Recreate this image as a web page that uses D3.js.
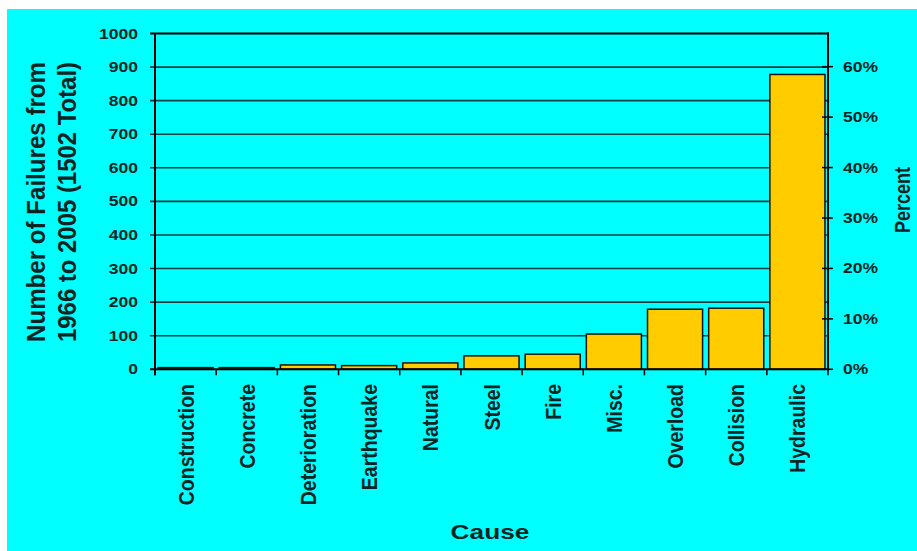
<!DOCTYPE html>
<html>
<head>
<meta charset="utf-8">
<script src="https://cdn.jsdelivr.net/npm/d3@7"></script>
<style>
  html, body { margin: 0; padding: 0; background: #ffffff; }
  svg { display: block; }
  text { font-family: "Liberation Sans", Arial, sans-serif; font-weight: bold; fill: #0d2424; }
</style>
</head>
<body>
<svg id="chart" width="917" height="551"></svg>
<script>
const categories = ["Construction", "Concrete", "Deterioration", "Earthquake", "Natural",
                    "Steel", "Fire", "Misc.", "Overload", "Collision", "Hydraulic"];
const failures = [5, 5, 13, 11, 19, 40, 45, 105, 179, 182, 878];
const totalFailures = 1502;
const countTicks = [0, 100, 200, 300, 400, 500, 600, 700, 800, 900, 1000];
const percentTicks = [0, 0.1, 0.2, 0.3, 0.4, 0.5, 0.6];
const yTitleLines = ["Number of Failures from", "1966 to 2005 (1502 Total)"];
const xTitle = "Cause";
const y2Title = "Percent";

const svg = d3.select("#chart");
const W = 917, H = 551;
const L = 155, R = 828, T = 33.5, B = 369.3;
const SX = 1.25; // horizontal glyph stretch seen in the reference
const SXR = 1.15; // stretch for rotated category labels

svg.append("rect").attr("x", 7).attr("y", 9).attr("width", W - 7).attr("height", H - 9)
  .attr("fill", "#00ffff");

const x = d3.scaleBand().domain(categories).range([L, R]).paddingInner(0.1).paddingOuter(0.05);
const y = d3.scaleLinear().domain([0, 1000]).range([B, T]);
const y2 = d3.scaleLinear().domain([0, 1000 / totalFailures]).range([B, T]);

// gridlines (extend left as outside ticks)
svg.append("g").selectAll("line").data(countTicks.filter(d => d > 0 && d < 1000)).join("line")
  .attr("x1", L - 5).attr("x2", R).attr("y1", d => y(d)).attr("y2", d => y(d))
  .attr("stroke", "#0b3f3f").attr("stroke-width", 1.6);

// bars
svg.append("g").selectAll("rect").data(categories).join("rect")
  .attr("x", d => x(d)).attr("width", x.bandwidth())
  .attr("y", (d, i) => y(failures[i])).attr("height", (d, i) => y(0) - y(failures[i]))
  .attr("fill", "#ffcc00").attr("stroke", "#111").attr("stroke-width", 1.5);

// frame lines
const frame = svg.append("g").attr("stroke", "#000").attr("stroke-width", 2).attr("fill", "none");
frame.append("line").attr("x1", L - 5).attr("x2", R + 1).attr("y1", y(1000)).attr("y2", y(1000));
frame.append("line").attr("x1", L).attr("x2", L).attr("y1", y(1000)).attr("y2", B + 6);
frame.append("line").attr("x1", L - 5).attr("x2", R + 1).attr("y1", y(0)).attr("y2", y(0));
frame.append("line").attr("x1", R).attr("x2", R).attr("y1", y(1000) - 1).attr("y2", B + 1);

// x ticks at category boundaries
const bounds = categories.map(c => x(c) - x.step() * x.paddingInner() / 2);
bounds.push(R);
svg.append("g").selectAll("line").data(bounds).join("line")
  .attr("x1", d => d).attr("x2", d => d).attr("y1", B).attr("y2", B + 6)
  .attr("stroke", "#000").attr("stroke-width", 1.5);

// right ticks
svg.append("g").selectAll("line").data(percentTicks).join("line")
  .attr("x1", R - 6).attr("x2", R + 5).attr("y1", d => y2(d)).attr("y2", d => y2(d))
  .attr("stroke", "#000").attr("stroke-width", 1.5);

// left tick labels
svg.append("g").selectAll("text").data(countTicks).join("text")
  .attr("transform", d => `translate(138,${y(d)}) scale(${SX},1)`)
  .attr("dy", "0.36em").attr("text-anchor", "end").attr("font-size", 14)
  .text(d => d);

// right tick labels
svg.append("g").selectAll("text").data(percentTicks).join("text")
  .attr("transform", d => `translate(843,${y2(d)}) scale(${SX},1)`)
  .attr("dy", "0.36em").attr("text-anchor", "start").attr("font-size", 14)
  .text(d => d3.format(".0%")(d));

// category labels
svg.append("g").selectAll("text").data(categories).join("text")
  .attr("transform", d => `translate(${x(d) + x.bandwidth() / 2},384) scale(${SXR},1) rotate(-90)`)
  .attr("dy", "0.36em").attr("text-anchor", "end").attr("font-size", 19.5)
  .text(d => d);

// axis titles
svg.append("text").attr("transform", `translate(490,539) scale(${SX},1)`)
  .attr("text-anchor", "middle").attr("font-size", 21).text(xTitle);

svg.append("text").attr("transform", `translate(910,200) scale(${SX},1) rotate(-90)`)
  .attr("text-anchor", "middle").attr("font-size", 18).text(y2Title);

const yTitleX = [45, 76];
yTitleLines.forEach((t, i) => {
  svg.append("text").attr("transform", `translate(${yTitleX[i]},202) scale(${SX},1) rotate(-90)`)
    .attr("text-anchor", "middle").attr("font-size", 20)
    .attr("textLength", 280).attr("lengthAdjust", "spacingAndGlyphs")
    .text(t);
});
</script>
</body>
</html>
